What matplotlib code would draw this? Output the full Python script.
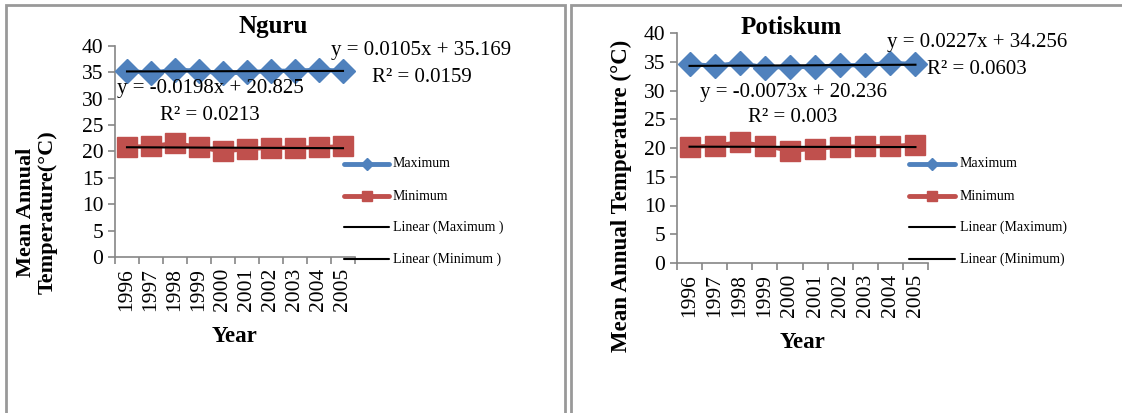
import matplotlib
matplotlib.use("Agg")
import matplotlib.pyplot as plt
from matplotlib.lines import Line2D
from matplotlib.patches import Rectangle
import numpy as np

plt.rcParams['font.family'] = ['Liberation Serif', 'DejaVu Serif']

W, H = 1122, 413

years = ['1996', '1997', '1998', '1999', '2000', '2001', '2002', '2003', '2004', '2005']

nguru_max = [35.3, 34.9, 35.5, 35.3, 34.8, 35.0, 35.3, 35.3, 35.5, 35.3]
nguru_min = [20.9, 21.0, 21.6, 20.8, 20.0, 20.5, 20.7, 20.7, 20.8, 21.0]
potiskum_max = [34.6, 34.3, 34.8, 34.0, 34.1, 34.1, 34.4, 34.4, 34.8, 34.6]
potiskum_min = [20.2, 20.4, 21.0, 20.4, 19.5, 19.9, 20.2, 20.3, 20.3, 20.6]

# Excel trendline coefficients (slope, intercept, R^2)
nguru_max_fit = (0.0105, 35.169, 0.0159)
nguru_min_fit = (-0.0198, 20.825, 0.0213)
potiskum_max_fit = (0.0227, 34.256, 0.0603)
potiskum_min_fit = (-0.0073, 20.236, 0.003)

BLUE = '#4F81BD'
RED = '#C0504D'
GREY = '#868686'


def px(x, y):
    return x / W, 1 - y / H


def fmt_eq(fit):
    m, b, r2 = fit
    sign = '+' if b >= 0 else '-'
    return f"y = {m:g}x {sign} {abs(b):.3f}", f"R² = {r2:g}"


def make_axes(fig, left, right, top, bottom):
    ax = fig.add_axes([left / W, 1 - bottom / H, (right - left) / W, (bottom - top) / H])
    ax.set_xlim(-0.5, 9.5)
    ax.set_ylim(0, 40)
    ax.set_yticks(range(0, 41, 5))
    ax.set_xticks(range(10))
    ax.set_xticklabels(years, rotation=90, fontsize=15.5)
    ax.set_xticks(np.arange(-0.5, 10, 1), minor=True)
    ax.tick_params(axis='x', which='major', length=0, pad=8)
    ax.tick_params(axis='x', which='minor', length=5, color=GREY, width=1.2)
    ax.tick_params(axis='y', length=5, color=GREY, width=1.2, labelsize=15.5)
    for s in ['top', 'right']:
        ax.spines[s].set_visible(False)
    for s in ['left', 'bottom']:
        ax.spines[s].set_color(GREY)
        ax.spines[s].set_linewidth(1.2)
    ax.patch.set_alpha(0)
    return ax


def draw_series(ax, vmax, vmin, fmax, fmin):
    x = np.arange(10)
    ax.plot(x, vmax, color=BLUE, lw=3, marker='D', ms=12, mec=BLUE, zorder=3, clip_on=False)
    ax.plot(x, vmin, color=RED, lw=3, marker='s', ms=15, mec=RED, zorder=3, clip_on=False)
    xe = x + 1
    ax.plot(x, fmax[0] * xe + fmax[1], color='black', lw=1.5, zorder=4)
    ax.plot(x, fmin[0] * xe + fmin[1], color='black', lw=1.5, zorder=4)


def draw_legend(fig, x0, x1, xt, rows, labels):
    styles = [dict(color=BLUE, lw=3.5, marker='D', ms=6),
              dict(color=RED, lw=3.5, marker='s', ms=7),
              dict(color='black', lw=1.5),
              dict(color='black', lw=1.5)]
    for y, lab, st in zip(rows, labels, styles):
        xa, ya = px(x0, y)
        xb, _ = px(x1, y)
        fig.add_artist(Line2D([xa, (xa + xb) / 2, xb], [ya, ya, ya],
                              markevery=[1], solid_capstyle='round', **st))
        fig.text(*px(xt, y), lab, fontsize=10, va='center', ha='left')


fig = plt.figure(figsize=(W / 100, H / 100), dpi=100)

# panel frames
for (l, r) in [(6, 565), (571, 1130)]:
    fig.add_artist(Rectangle(px(l, 430), (r - l) / W, (430 - 5) / H,
                             fill=False, ec='#999999', lw=2, transform=fig.transFigure))

# Nguru
ax1 = make_axes(fig, 115, 355, 46, 257)
draw_series(ax1, nguru_max, nguru_min, nguru_max_fit, nguru_min_fit)
fig.text(*px(273, 27), 'Nguru', fontsize=18, fontweight='bold', ha='center', va='center')
fig.text(*px(37, 212), 'Mean Annual\nTemperature(°C)', fontsize=16, fontweight='bold',
         rotation=90, ha='center', va='center', multialignment='center', linespacing=1.1)
fig.text(*px(235, 337), 'Year', fontsize=16.5, fontweight='bold', ha='center', va='center')
eq, r2 = fmt_eq(nguru_max_fit)
fig.text(*px(421, 51), eq, fontsize=15, ha='center', va='center')
fig.text(*px(422, 78), r2, fontsize=15, ha='center', va='center')
eq, r2 = fmt_eq(nguru_min_fit)
fig.text(*px(210, 89), eq, fontsize=15, ha='center', va='center')
fig.text(*px(210, 115), r2, fontsize=15, ha='center', va='center')
draw_legend(fig, 344, 389, 393, [164, 196, 227, 259],
            ['Maximum', 'Minimum', 'Linear (Maximum )', 'Linear (Minimum )'])

# Potiskum
ax2 = make_axes(fig, 677, 928, 33, 263)
draw_series(ax2, potiskum_max, potiskum_min, potiskum_max_fit, potiskum_min_fit)
fig.text(*px(791, 27), 'Potiskum', fontsize=18, fontweight='bold', ha='center', va='center')
fig.text(*px(621, 196), 'Mean Annual Temperature (°C)', fontsize=16.5, fontweight='bold',
         rotation=90, ha='center', va='center')
fig.text(*px(803, 343), 'Year', fontsize=16.5, fontweight='bold', ha='center', va='center')
eq, r2 = fmt_eq(potiskum_max_fit)
fig.text(*px(977, 43), eq, fontsize=15, ha='center', va='center')
fig.text(*px(977, 69), r2, fontsize=15, ha='center', va='center')
eq, r2 = fmt_eq(potiskum_min_fit)
fig.text(*px(794, 92), eq, fontsize=15, ha='center', va='center')
fig.text(*px(793, 117), r2, fontsize=15, ha='center', va='center')
draw_legend(fig, 909, 955, 960, [164, 196, 227, 259],
            ['Maximum', 'Minimum', 'Linear (Maximum)', 'Linear (Minimum)'])

fig.savefig('out.png', dpi=100, facecolor='white')
